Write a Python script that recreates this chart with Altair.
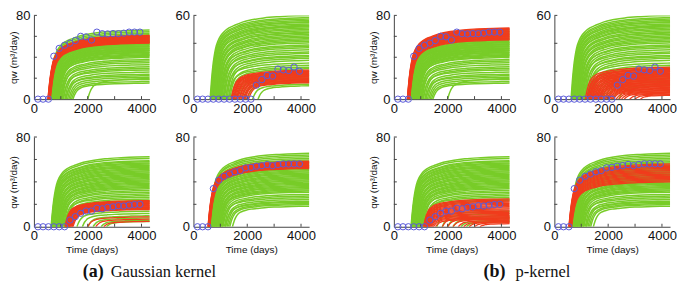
import altair as alt
import pandas as pd

# ---------------- data ----------------
# generic rise profile of a simulated rate curve: fraction of plateau vs days after onset
SHAPE_DT = [0, 50, 100, 150, 200, 300, 400, 500, 700, 900, 1200, 1600, 2000, 2600, 3200, 4000]
SHAPE_FRAC = [0, 0.22, 0.39, 0.51, 0.6, 0.7, 0.76, 0.8, 0.85, 0.88, 0.92, 0.95, 0.97, 0.985, 0.995, 1.0]

# observed water rates (days, m3/day) for the four wells
T_OBS = [150, 340, 540, 740, 940, 1140, 1340, 1540, 1740, 1940, 2140, 2340, 2540, 2740, 2940, 3140, 3340, 3540, 3740, 3940]
OBS_W1 = [0, 0, 0, 41, 48.5, 51.5, 53.5, 56, 60, 59.5, 56.5, 64, 62.5, 62.3, 62.6, 62.5, 63, 64, 64, 64]
OBS_W2 = [0, 0, 0, 0, 0, 0, 0, 0, 0, 0, 0, 10, 14, 17, 16.5, 21.5, 21, 20.5, 23, 20]
OBS_W3 = [0, 0, 0, 0, 0, 0, 6, 9, 12, 14, 14, 16.5, 16, 17.3, 17.8, 18.8, 18.5, 19.3, 19.8, 20]
OBS_W4 = [0, 0, 0, 34, 41.5, 45, 47, 49, 50, 52.5, 53, 54, 54.5, 55.5, 54.5, 55.5, 56, 56, 56, 56]

Y_MAX = [80, 60, 80, 80]
Y_TICKS = {80: [20, 40, 60, 80], 60: [20, 40, 60]}
X_LABELS = [0, 2000, 4000]
X_TICKS = [1000, 2000, 3000, 4000]

# prior ensemble (green): (onset day, plateau rate) per member
PRIOR_W1 = [(560, 66), (580, 64.5), (600, 63), (590, 61.5), (620, 60), (610, 58.5),
            (640, 57), (660, 56), (650, 55), (680, 54.5), (700, 54), (690, 53), (720, 52.5), (740, 52),
            (710, 51), (760, 50.5), (780, 50), (750, 49), (800, 48.5), (820, 48), (790, 47), (840, 46.5),
            (860, 46), (830, 45), (880, 44.5), (900, 43.5), (870, 42.5), (920, 42), (950, 41), (900, 40),
            (980, 38), (1000, 36.5), (1050, 35), (1020, 33), (1100, 31), (1150, 29.5), (1080, 28),
            (1200, 26), (1250, 24), (1180, 22.5), (1300, 21), (1350, 19), (1400, 17), (1450, 15.5), (2000, 20)]
PRIOR_W2 = [(620, 60), (640, 58.5), (650, 57.5), (680, 56.5), (700, 55.5), (660, 55), (720, 54), (750, 53),
            (700, 52.5), (780, 52), (800, 51), (760, 50), (830, 49), (850, 48), (800, 47.5), (880, 46.5),
            (900, 45.5), (870, 44.5), (930, 43.5), (960, 42.5), (920, 41.5), (1000, 40.5), (1030, 39),
            (980, 38), (1060, 37), (1100, 35.5), (1050, 34), (1150, 33), (1200, 31.5), (1120, 30.5),
            (1250, 29.5), (1300, 28), (1200, 26), (1350, 24.5), (1300, 23), (1400, 22), (1500, 20),
            (1600, 18.5), (1700, 17), (1800, 15.5), (1900, 14), (2000, 12.5), (2200, 11), (2400, 10)]
PRIOR_W3 = [(640, 62.5), (660, 61), (680, 59), (650, 58), (700, 57), (690, 56), (720, 55), (740, 54),
            (710, 53), (760, 52), (780, 51), (750, 50), (800, 49), (820, 48), (790, 47), (850, 46),
            (870, 45), (840, 44), (900, 43), (920, 42), (880, 41), (950, 40), (980, 39), (940, 38),
            (1000, 37), (1030, 36), (990, 35), (1060, 34), (1100, 32.5), (1050, 31), (1150, 29.5),
            (1200, 28), (1120, 26.5), (1250, 25), (1300, 23.5),
            (1600, 14), (1800, 12), (2000, 10), (2200, 8), (2500, 6), (2700, 5)]
PRIOR_W4 = [(600, 65.5), (620, 64), (610, 62.5), (640, 61), (630, 59.5), (660, 58), (650, 57),
            (680, 55), (700, 54), (690, 53), (720, 52), (740, 51), (710, 50), (760, 49), (780, 48),
            (750, 47), (800, 46), (820, 45), (790, 44), (850, 43), (870, 42), (840, 41), (900, 40),
            (920, 39), (880, 38), (950, 37), (980, 36), (940, 35), (1000, 34), (1030, 33), (990, 32),
            (1060, 31), (1100, 29), (1150, 27.5), (1080, 26), (1200, 24.5), (1250, 23), (1180, 22),
            (1300, 21), (1350, 20), (1450, 18.5)]

# posterior ensembles (red), (a) Gaussian kernel
POST_A_W1 = [(520, 61), (525, 60.5), (530, 60), (535, 59.5), (540, 59), (545, 58.5), (550, 58), (555, 57.5),
             (560, 57), (565, 56.5), (570, 56), (575, 55.5), (580, 55), (590, 54.5), (600, 54), (610, 53.5)]
POST_A_W2 = [(1400, 21), (1420, 20.5), (1450, 20), (1480, 19.5), (1500, 19), (1530, 18.5), (1560, 18),
             (1600, 17.5), (1620, 17), (1650, 16.5), (1700, 16), (1720, 15.5), (1760, 15), (1800, 14.5),
             (1850, 14), (1880, 13.5), (1920, 13), (1980, 12.5), (2050, 12)]
POST_A_W3 = [(1150, 23.5), (1170, 23), (1190, 22.5), (1200, 22), (1220, 21.5), (1240, 21), (1250, 20.5),
             (1270, 20), (1280, 19.5), (1300, 19), (1320, 18.5), (1330, 18), (1350, 17.5), (1370, 17),
             (1400, 16.5), (1420, 16), (1450, 15.5), (2000, 9), (2300, 7), (2600, 5)]
POST_A_W4 = [(540, 58.5), (545, 58), (550, 57.5), (555, 57), (560, 56.5), (565, 56), (570, 55.5), (575, 55),
             (580, 54.5), (585, 54), (590, 53.5), (595, 53), (600, 52.5), (610, 52)]
# posterior ensembles (red), (b) p-kernel
POST_B_W1 = [(500, 68), (505, 67.3), (510, 66.6), (515, 66), (520, 65.3), (525, 64.6), (530, 64), (535, 63.3),
             (540, 62.6), (545, 62), (550, 61.3), (555, 60.6), (560, 60), (565, 59.3), (570, 58.6), (575, 58),
             (580, 57.3), (590, 56.6)]
POST_B_W2 = [(1150, 23), (1200, 22), (1250, 21.5), (1220, 21), (1300, 20.5), (1280, 20), (1350, 19.5),
             (1320, 19), (1400, 18.5), (1380, 18), (1450, 17.5), (1420, 17), (1500, 16.5), (1480, 16),
             (1550, 15.5), (1530, 15), (1600, 14.5), (1580, 14), (1650, 13.5), (1630, 13), (1700, 12.5),
             (1680, 12), (1750, 11.5), (1730, 11), (1800, 10.5), (1850, 10), (1900, 9.5), (1950, 9),
             (2000, 8.5), (2050, 8), (2100, 7.5), (2150, 7), (2200, 6.5), (2300, 6), (2400, 5.5),
             (2500, 5), (2600, 4.5), (2800, 4), (3000, 3.5), (3200, 3)]
POST_B_W3 = [(1100, 25), (1120, 24), (1140, 23), (1150, 22), (1170, 21), (1180, 20), (1200, 19), (1210, 18),
             (1230, 17), (1240, 16), (1260, 15), (1280, 14), (1300, 13), (1320, 12), (1350, 11), (1380, 10),
             (1420, 9), (1470, 8), (1550, 7), (1800, 9), (2000, 8), (2200, 7), (2400, 6), (2600, 5),
             (2800, 4.5), (3000, 4), (3200, 3)]
POST_B_W4 = [(540, 56), (545, 55), (550, 54), (555, 53), (560, 52), (565, 51), (570, 50), (575, 49),
             (580, 48), (585, 47), (590, 46), (595, 45), (600, 44), (610, 43), (620, 42), (630, 41), (640, 40)]

CAPTION_A = ["(a)", "Gaussian kernel"]
CAPTION_B = ["(b)", "p-kernel"]

OBS = [OBS_W1, OBS_W2, OBS_W3, OBS_W4]
PRIOR = [PRIOR_W1, PRIOR_W2, PRIOR_W3, PRIOR_W4]
POST = {"a": [POST_A_W1, POST_A_W2, POST_A_W3, POST_A_W4],
        "b": [POST_B_W1, POST_B_W2, POST_B_W3, POST_B_W4]}

# ---------------- tables ----------------
line_rows = []
obs_rows = []
for m_i, method in enumerate(["a", "b"]):
    for w in range(4):
        pid = m_i * 4 + w + 1
        for kind, ens in (("g", PRIOR[w]), ("r", POST[method][w])):
            for i, (t0, qp) in enumerate(ens):
                for dt, f in zip(SHAPE_DT, SHAPE_FRAC):
                    line_rows.append({"panel": pid, "kind": kind, "line": f"{pid}{kind}{i}",
                                      "t": t0 + dt, "q": qp * f})
        for t, q in zip(T_OBS, OBS[w]):
            obs_rows.append({"panel": pid, "t": t, "q": q})
lines_df = pd.DataFrame(line_rows)
obs_df = pd.DataFrame(obs_rows)

GREEN = "#78cc28"
RED = "#f03c1c"
OBSC = "#5a5ad8"
AXC = "#444444"
FONT = "Liberation Sans"
SERIF = "Liberation Serif, DejaVu Serif, serif"
W = 116
H_TOP, H_BOT = 84, 90
X_MAX = 4300


def panel(pid, w, top, left, caption=None):
    h = H_TOP if top else H_BOT
    ymax = Y_MAX[w]
    xs = alt.Scale(domain=[0, X_MAX], nice=False, zero=False)
    ys = alt.Scale(domain=[0, ymax], nice=False)
    if top:
        xaxis = alt.Axis(values=X_LABELS, format="d", title=None, labelFlush=False, labelPadding=3)
    else:
        xaxis = alt.Axis(values=X_LABELS, format="d", title="Time (days)", labelFlush=False,
                         labelPadding=3, titlePadding=2)
    if left:
        yaxis = alt.Axis(values=[0, ymax], format="d", title="qw (m³/day)", labelPadding=4, titleAngle=270,
                         titleX=-15, titleY=h / 2, titleBaseline="bottom", titleAlign="center")
    else:
        yaxis = alt.Axis(values=[0, ymax], format="d", title=None, labelPadding=4)

    base = alt.Chart(lines_df).transform_filter(alt.datum.panel == pid)
    green = base.transform_filter(alt.datum.kind == "g").mark_line(
        color=GREEN, strokeWidth=1.5, clip=True, interpolate="monotone").encode(
        x=alt.X("t:Q", scale=xs, axis=xaxis),
        y=alt.Y("q:Q", scale=ys, axis=yaxis),
        detail="line:N")
    red = base.transform_filter(alt.datum.kind == "r").mark_line(
        color=RED, strokeWidth=1.3, clip=True, interpolate="monotone").encode(
        x=alt.X("t:Q", scale=xs, axis=xaxis),
        y=alt.Y("q:Q", scale=ys, axis=yaxis),
        detail="line:N")
    yt = alt.Chart(pd.DataFrame({"q": Y_TICKS[ymax]})).mark_rule(color=AXC, strokeWidth=1).encode(
        y=alt.Y("q:Q", scale=ys, axis=yaxis), x=alt.value(0), x2=alt.value(3))
    xt = alt.Chart(pd.DataFrame({"t": X_TICKS})).mark_rule(color=AXC, strokeWidth=1).encode(
        x=alt.X("t:Q", scale=xs, axis=xaxis), y=alt.value(h), y2=alt.value(h - 3))
    pts = alt.Chart(obs_df).transform_filter(alt.datum.panel == pid).mark_point(
        shape="circle", filled=False, size=40, strokeWidth=1, opacity=1, color=OBSC).encode(
        x=alt.X("t:Q", scale=xs, axis=xaxis), y=alt.Y("q:Q", scale=ys, axis=yaxis))
    layers = [green, red, yt, xt, pts]
    if caption is not None:
        texts, xpos = caption
        yc = 272 - (14.5 + H_TOP + 38)
        c1 = alt.Chart(pd.DataFrame({"s": [texts[0]]})).mark_text(
            font=SERIF, fontSize=18, fontWeight="bold", align="left", baseline="middle", color="#111").encode(
            text="s:N", x=alt.value(xpos[0]), y=alt.value(yc))
        c2 = alt.Chart(pd.DataFrame({"s": [texts[1]]})).mark_text(
            font=SERIF, fontSize=16.5, align="left", baseline="middle", color="#111").encode(
            text="s:N", x=alt.value(xpos[1]), y=alt.value(yc))
        layers += [c1, c2]
    return alt.layer(*layers).properties(width=W, height=h)


pA = [panel(1, 0, True, True), panel(2, 1, True, False),
      panel(3, 2, False, True, (CAPTION_A, (49, 77))), panel(4, 3, False, False)]
pB = [panel(5, 0, True, True), panel(6, 1, True, False),
      panel(7, 2, False, True, (CAPTION_B, (90, 122))), panel(8, 3, False, False)]

groupA = alt.concat(*pA, columns=2, spacing={"row": 38, "column": 44}, bounds="flush")
groupB = alt.concat(*pB, columns=2, spacing={"row": 38, "column": 45}, bounds="flush")

chart = alt.hconcat(groupA, groupB, spacing=52).properties(
    padding={"left": 0, "top": 0, "right": 0, "bottom": 0}
).configure_view(stroke="transparent").configure_axis(
    labelFont=FONT, labelFontSize=13, labelColor="#111", titleFont=FONT, titleFontSize=10,
    titleFontWeight="normal", titleColor="#111", domainColor=AXC, domainWidth=1,
    ticks=False, grid=False
)

chart.save("out.html", embed_options={"renderer": "svg", "actions": False})
